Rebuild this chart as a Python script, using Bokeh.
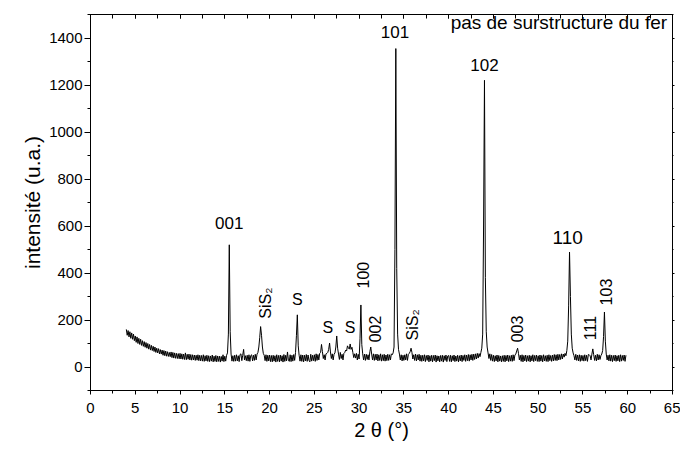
from bokeh.plotting import figure
from bokeh.models import LinearAxis, SingleIntervalTicker, Range1d, ColumnDataSource, CustomJSTickFormatter
from bokeh.core.properties import value
from bokeh.embed import file_html
from bokeh.resources import INLINE
import math

FONT = "Liberation Sans"

# XRD scan: start angle, step (degrees 2theta) and intensities
scan_start = 4.0
scan_step = 0.1
intensity = [
    160, 135, 155, 128, 150, 122, 145, 118, 140, 112,   # 4
    132, 105, 128, 100, 122, 96, 118, 92, 112, 88,      # 5
    108, 84, 104, 80, 100, 76, 96, 72, 92, 70,          # 6
    88, 66, 85, 62, 80, 60, 78, 56, 74, 55,             # 7
    72, 50, 70, 48, 68, 46, 65, 45, 62, 44,             # 8
    64, 40, 62, 38, 60, 37, 58, 36, 57, 35,             # 9
    58, 34, 56, 33, 55, 32, 60, 31, 54, 33,             # 10
    55, 30, 53, 29, 52, 30, 51, 28, 50, 29,             # 11
    52, 27, 50, 26, 49, 25, 52, 24, 48, 26,             # 12
    50, 24, 48, 23, 47, 25, 51, 22, 46, 24,             # 13
    49, 22, 47, 24, 46, 21, 45, 25, 52, 23,             # 14
    46, 25, 50, 60, 140, 520, 150, 55, 25, 48,          # 15
    24, 50, 25, 52, 26, 48, 23, 53, 56, 27,             # 16
    50, 75, 30, 48, 27, 50, 25, 52, 24, 49,             # 17
    52, 26, 50, 28, 54, 30, 55, 62, 85, 125,            # 18
    172, 135, 85, 58, 50, 27, 52, 24, 50, 26,           # 19
    51, 23, 49, 22, 50, 25, 48, 21, 52, 24,             # 20
    49, 22, 51, 25, 48, 21, 53, 24, 50, 26,             # 21
    64, 30, 24, 52, 23, 50, 25, 53, 28, 62,             # 22
    135, 222, 90, 50, 25, 52, 24, 51, 22, 50,           # 23
    26, 53, 24, 51, 28, 22, 54, 25, 50, 27,             # 24
    52, 24, 56, 28, 53, 30, 58, 62, 96, 66,             # 25
    36, 52, 30, 56, 58, 62, 75, 102, 64, 36,            # 26
    56, 30, 54, 60, 85, 132, 80, 55, 32, 62,            # 27
    36, 54, 30, 58, 62, 72, 68, 90, 82, 76,             # 28
    98, 75, 84, 62, 40, 56, 38, 58, 30, 54,             # 29
    34, 120, 264, 95, 56, 30, 55, 28, 54, 32,           # 30
    52, 30, 65, 85, 55, 30, 56, 28, 54, 30,             # 31
    55, 26, 52, 28, 56, 25, 52, 27, 54, 25,             # 32
    51, 27, 54, 28, 52, 30, 56, 52, 60, 85,             # 33
    500, 1355, 420, 140, 75, 55, 30, 52, 26, 50,        # 34
    28, 52, 30, 56, 28, 54, 58, 65, 80, 62,             # 35
    34, 52, 28, 55, 26, 52, 30, 54, 25, 50,             # 36
    24, 50, 26, 52, 23, 49, 28, 51, 22, 48,             # 37
    25, 50, 22, 49, 27, 51, 21, 48, 26, 47,             # 38
    22, 49, 25, 50, 21, 48, 28, 51, 23, 47,             # 39
    49, 24, 50, 22, 48, 27, 51, 23, 47, 25,             # 40
    50, 22, 48, 26, 51, 23, 49, 28, 52, 24,             # 41
    51, 27, 53, 25, 52, 30, 54, 28, 55, 32,             # 42
    56, 34, 58, 38, 57, 44, 62, 80, 140, 600,           # 43
    1220, 380, 150, 85, 60, 36, 56, 28, 53, 25,         # 44
    50, 23, 48, 26, 51, 22, 49, 25, 47, 22,             # 45
    48, 24, 50, 22, 49, 26, 51, 23, 48, 25,             # 46
    50, 24, 52, 27, 51, 55, 68, 80, 58, 30,             # 47
    50, 24, 52, 22, 49, 26, 51, 23, 48, 25,             # 48
    50, 22, 48, 26, 52, 23, 49, 27, 51, 24,             # 49
    48, 23, 51, 25, 49, 22, 52, 26, 48, 24,             # 50
    50, 23, 52, 27, 49, 24, 51, 26, 53, 28,             # 51
    52, 27, 54, 30, 53, 32, 56, 34, 55, 42,             # 52
    58, 48, 70, 110, 260, 489, 300, 140, 80, 60,        # 53
    48, 30, 54, 28, 51, 26, 52, 24, 50, 27,             # 54
    49, 25, 52, 27, 50, 24, 53, 52, 48, 30,             # 55
    55, 77, 52, 28, 50, 26, 54, 30, 52, 32,             # 56
    48, 55, 70, 130, 234, 110, 55, 30, 50, 26,          # 57
    52, 25, 50, 23, 49, 27, 51, 24, 48, 26,             # 58
    50, 23, 52, 25, 49, 28, 51, 24, 50,                 # 59
]
two_theta = [round(scan_start + scan_step * i, 1) for i in range(len(intensity))]

# horizontal peak labels
flat_labels = ["001", "101", "102", "110", "S", "S", "S"]
flat_x = [15.5, 34.0, 44.0, 53.3, 23.1, 26.5, 29.0]
flat_y = [613, 1425, 1285, 553, 289, 166, 166]
flat_size = ["17px", "17px", "17px", "19px", "16px", "16px", "16px"]

# vertical (rotated) peak labels
rot_labels = ["SiS\u2082", "100", "002", "SiS\u2082", "003", "111", "103"]
rot_x = [19.5, 30.4, 31.8, 35.95, 47.6, 55.8, 57.6]
rot_y = [272, 391, 162, 179, 162, 166, 319]

note_text = ["pas de surstructure du fer"]
note_x = [64.4]
note_y = [1468]

p = figure(frame_width=582, frame_height=376,
           x_range=Range1d(0, 65), y_range=Range1d(-100, 1500),
           output_backend="svg", toolbar_location=None,
           min_border_left=90, min_border_right=8, min_border_top=14, min_border_bottom=63,
           background_fill_color="white", border_fill_color="white")

p.xgrid.visible = False
p.ygrid.visible = False
p.outline_line_color = "black"
p.outline_line_width = 1

blank = CustomJSTickFormatter(code="return ''")

# bottom axis
xa = p.xaxis[0]
xa.ticker = SingleIntervalTicker(interval=5, num_minor_ticks=2)
xa.axis_label = "2 \u03b8 (\u00b0)"
xa.axis_label_text_font = FONT
xa.axis_label_text_font_size = "20px"
xa.axis_label_text_font_style = "normal"
xa.axis_label_text_color = "black"
xa.axis_label_standoff = 3
xa.major_label_text_font = FONT
xa.major_label_text_font_size = "15px"
xa.major_label_standoff = 8
xa.major_tick_in = 0
xa.major_tick_out = 4
xa.minor_tick_in = 0
xa.minor_tick_out = 3
xa.axis_line_color = "black"
xa.major_tick_line_color = "black"
xa.minor_tick_line_color = "black"
xa.major_label_text_color = "black"

# left axis
ya = p.yaxis[0]
ya.ticker = SingleIntervalTicker(interval=200, num_minor_ticks=2)
ya.axis_label = "intensit\u00e9 (u.a.)"
ya.axis_label_text_font = FONT
ya.axis_label_text_font_size = "21px"
ya.axis_label_text_font_style = "normal"
ya.axis_label_text_color = "black"
ya.axis_label_standoff = 2
ya.major_label_text_font = FONT
ya.major_label_text_font_size = "15px"
ya.major_label_standoff = 2
ya.major_tick_in = 0
ya.major_tick_out = 6
ya.minor_tick_in = 0
ya.minor_tick_out = 3
ya.axis_line_color = "black"
ya.major_tick_line_color = "black"
ya.minor_tick_line_color = "black"
ya.major_label_text_color = "black"

# top axis: ticks only, pointing inward
top = LinearAxis(ticker=SingleIntervalTicker(interval=5, num_minor_ticks=2),
                 formatter=blank, major_label_standoff=0,
                 major_tick_in=4, major_tick_out=0, minor_tick_in=4, minor_tick_out=0,
                 axis_line_color="black", major_tick_line_color="black",
                 minor_tick_line_color="black")
p.add_layout(top, "above")

# right axis: small ticks
right = LinearAxis(ticker=SingleIntervalTicker(interval=200, num_minor_ticks=2),
                   formatter=blank, major_label_standoff=0,
                   major_tick_in=0, major_tick_out=2, minor_tick_in=0, minor_tick_out=1,
                   axis_line_color="black", major_tick_line_color="black",
                   minor_tick_line_color="black")
p.add_layout(right, "right")

# pattern
src = ColumnDataSource(dict(x=two_theta, y=intensity))
p.line("x", "y", source=src, line_color="black", line_width=1)

# labels
fsrc = ColumnDataSource(dict(x=flat_x, y=flat_y, t=flat_labels, s=flat_size))
p.text("x", "y", text="t", source=fsrc, text_font=value(FONT), text_font_size="s",
       text_align="center", text_baseline="middle", text_color="black")

rsrc = ColumnDataSource(dict(x=rot_x, y=rot_y, t=rot_labels))
p.text("x", "y", text="t", source=rsrc, angle=math.pi / 2, text_font=value(FONT),
       text_font_size=value("16px"), text_align="center", text_baseline="middle",
       text_color="black")

nsrc = ColumnDataSource(dict(x=note_x, y=note_y, t=note_text))
p.text("x", "y", text="t", source=nsrc, text_font=value(FONT),
       text_font_size=value("19px"), text_align="right", text_baseline="middle",
       text_color="black")

open("out.html", "w").write(file_html(p, INLINE))
